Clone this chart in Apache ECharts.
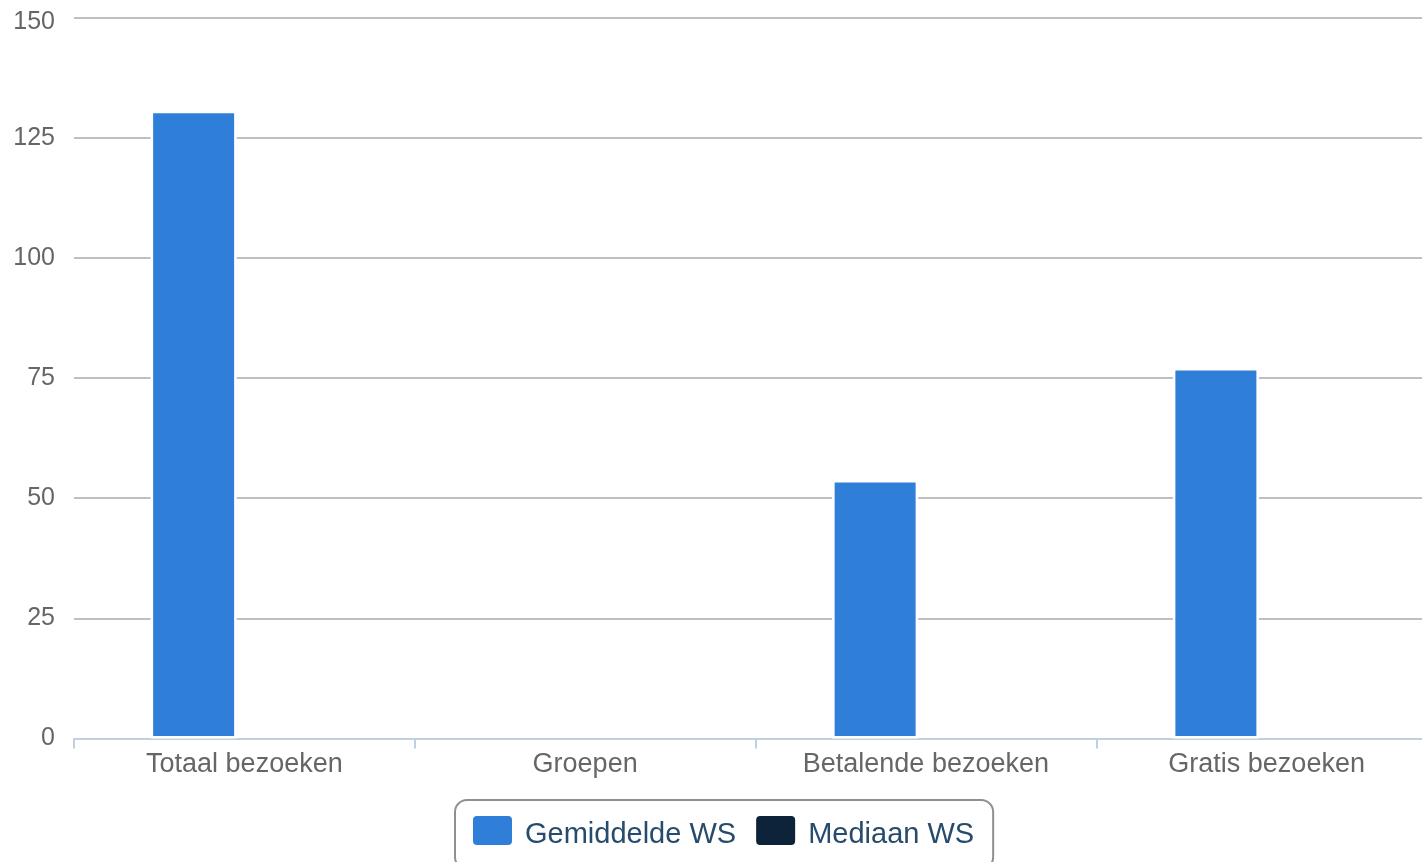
<!DOCTYPE html>
<html>
<head>
<meta charset="utf-8">
<script src="https://cdn.jsdelivr.net/npm/echarts@6/dist/echarts.min.js"></script>
<style>
html,body{margin:0;padding:0;background:#fff;}
#chart{width:1422px;height:862px;}
</style>
</head>
<body>
<div id="chart"></div>
<script>
const categories = ['Totaal bezoeken', 'Groepen', 'Betalende bezoeken', 'Gratis bezoeken'];
const seriesNames = ['Gemiddelde WS', 'Mediaan WS'];
const gemiddeldeWS = [130.6, null, 53.8, 77.1];
const mediaanWS = [null, null, null, null];
const yTicks = { min: 0, max: 150, interval: 25 };

const chart = echarts.init(document.getElementById('chart'), null, { renderer: 'canvas' });
const font = '"Liberation Sans", Arial, Helvetica, sans-serif';
const iconPath = 'path://M4,0 H35 A4,4 0 0 1 39,4 V25 A4,4 0 0 1 35,29 H4 A4,4 0 0 1 0,25 V4 A4,4 0 0 1 4,0 Z';

chart.setOption({
  animation: false,
  backgroundColor: '#ffffff',
  textStyle: { fontFamily: font },
  grid: { left: 74, width: 1363, top: 17.5, bottom: 123.5, containLabel: false, outerBoundsMode: 'none' },
  legend: {
    data: seriesNames,
    left: 455,
    top: 800,
    orient: 'horizontal',
    icon: iconPath,
    itemWidth: 39,
    itemHeight: 29,
    itemGap: 20,
    padding: [16, 19, 20, 18],
    borderColor: '#909090',
    borderWidth: 2,
    borderRadius: 12,
    itemStyle: { borderWidth: 0 },
    formatter: function (name) { return '{n|' + name + '}'; },
    textStyle: {
      color: '#274b6d', fontSize: 29, fontFamily: font,
      rich: { n: { color: '#274b6d', fontSize: 29, fontFamily: font, padding: [8, 0, 0, 8] } }
    }
  },
  xAxis: {
    type: 'category',
    data: categories,
    boundaryGap: true,
    axisLine: { show: true, lineStyle: { color: '#C0D0E0', width: 2 } },
    axisTick: { show: true, length: 10, alignWithLabel: false, lineStyle: { color: '#C0D0E0', width: 2 } },
    axisLabel: { color: '#666666', fontSize: 27, margin: 13, fontFamily: font },
    splitLine: { show: false }
  },
  yAxis: {
    type: 'value',
    min: yTicks.min,
    max: yTicks.max,
    interval: yTicks.interval,
    axisLine: { show: false },
    axisTick: { show: false },
    axisLabel: {
      color: '#666666', fontSize: 25, margin: 19, fontFamily: font,
      formatter: function (v) { return v === yTicks.max ? '{top|' + v + '}' : String(v); },
      rich: { top: { color: '#666666', fontSize: 25, fontFamily: font, padding: [10, 0, 0, 0] } }
    },
    splitLine: { show: true, lineStyle: { color: '#C0C0C0', width: 2 } }
  },
  series: [
    {
      name: seriesNames[0],
      type: 'bar',
      data: gemiddeldeWS,
      barWidth: 86,
      barGap: '18%',
      itemStyle: { color: '#2F7ED8', borderColor: '#ffffff', borderWidth: 2.5 }
    },
    {
      name: seriesNames[1],
      type: 'bar',
      data: mediaanWS,
      barWidth: 86,
      barGap: '18%',
      itemStyle: { color: '#0D233A', borderColor: '#ffffff', borderWidth: 2.5 }
    }
  ]
});
</script>
</body>
</html>
